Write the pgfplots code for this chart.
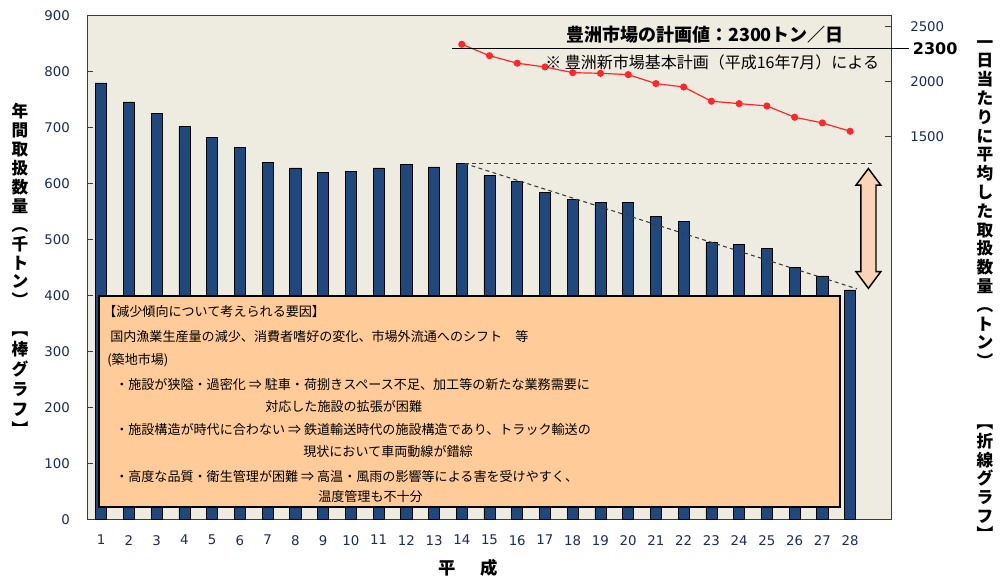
\documentclass[border=0pt]{standalone}
\usepackage{fontspec}
\setmainfont{DejaVu Sans}
\newfontfamily\jp{Noto Sans CJK JP}
\usepackage{pgfplots}
\pgfplotsset{compat=1.18}
\definecolor{bgcol}{RGB}{238,235,224}
\definecolor{barcol}{RGB}{31,73,125}
\definecolor{framecol}{RGB}{60,60,60}
\definecolor{linecol}{RGB}{255,40,40}
\definecolor{boxcol}{RGB}{255,204,153}
\definecolor{arrowcol}{RGB}{250,212,184}
\definecolor{tickcol}{RGB}{28,45,85}
\begin{document}
\begin{tikzpicture}
\path[use as bounding box, fill=white] (0,0) rectangle (750pt,438.75pt);
\begin{axis}[
  at={(65.475pt,49.125pt)}, anchor=south west,
  scale only axis, width=603.3pt, height=377.85pt,
  xmin=0.5, xmax=29.5, ymin=0, ymax=900,
  ytick={0,100,...,900},
  xtick={1,...,28},
  xtick pos=bottom, ytick pos=left,
  x tick style={draw=none},
  y tick style={draw=framecol, line width=0.8pt},
  major tick length=4.5pt,
  tick align=inside,
  axis line style={draw=framecol, line width=1pt},
  axis background/.style={fill=bgcol},
  tick label style={font=\fontsize{10}{12}\selectfont, text=tickcol},
  /pgf/number format/assume math mode=true,
  /pgf/number format/1000 sep={},
  yticklabel style={xshift=-9.5pt},
  xticklabel style={yshift=-8.3pt},
  clip=false,
]
\addplot[ybar, bar width=0.4, bar shift=0pt, fill=barcol, draw=black, line width=0.5pt] coordinates {
(1,780) (2,746) (3,725) (4,702) (5,682) (6,664) (7,638) (8,628) (9,620) (10,622)
(11,628) (12,634) (13,630) (14,636) (15,614) (16,604) (17,585) (18,572) (19,566) (20,566)
(21,542) (22,532) (23,496) (24,491) (25,484) (26,451) (27,435) (28,410)};
\draw[framecol, dash pattern=on 3pt off 2.5pt, line width=0.8pt] (axis cs:14.1,636) -- (axis cs:28.79,636);
\draw[framecol, dash pattern=on 3pt off 2.5pt, line width=0.8pt] (axis cs:14.1,636) -- (axis cs:28.25,412);
\draw[black, line width=1.1pt, fill=arrowcol, line join=miter]
  (axis cs:28.66,627)
  -- ([xshift=9.3pt,yshift=-12.5pt]axis cs:28.66,627)
  -- ([xshift=5.7pt,yshift=-12.5pt]axis cs:28.66,627)
  -- ([xshift=5.7pt,yshift=12.5pt]axis cs:28.66,413)
  -- ([xshift=9.3pt,yshift=12.5pt]axis cs:28.66,413)
  -- (axis cs:28.66,413)
  -- ([xshift=-9.3pt,yshift=12.5pt]axis cs:28.66,413)
  -- ([xshift=-5.7pt,yshift=12.5pt]axis cs:28.66,413)
  -- ([xshift=-5.7pt,yshift=-12.5pt]axis cs:28.66,627)
  -- ([xshift=-9.3pt,yshift=-12.5pt]axis cs:28.66,627)
  -- cycle;
\end{axis}
\begin{axis}[
  at={(65.475pt,49.125pt)}, anchor=south west,
  scale only axis, width=603.3pt, height=377.85pt,
  xmin=0.5, xmax=29.5, ymin=-2000, ymax=2600,
  axis y line*=right, axis x line=none,
  ytick={1500,2000,2500},
  tick align=inside,
  major tick length=5pt,
  y tick style={draw=framecol, line width=0.8pt},
  axis line style={draw=framecol, line width=1pt},
  tick label style={font=\fontsize{10}{12}\selectfont, text=tickcol},
  /pgf/number format/assume math mode=true,
  /pgf/number format/1000 sep={},
  yticklabel style={xshift=10.4pt},
  clip=false,
]
\addplot[color=linecol, line width=0.9pt, mark=*, mark size=2.2pt, mark options={fill=linecol, draw=linecol}] coordinates {
(14,2339) (15,2235) (16,2166) (17,2132) (18,2080) (19,2074) (20,2062) (21,1980)
(22,1949) (23,1819) (24,1797) (25,1776) (26,1673) (27,1621) (28,1545)};
\draw[black, line width=0.8pt] (axis cs:13.66,2300) -- ([xshift=13pt]axis cs:29.5,2300)
  node[right, inner sep=2.5pt, font=\bfseries\fontsize{12}{14}\selectfont]{2300};
\end{axis}
\begin{scope}[x=0.75pt,y=-0.75pt,yshift=438.75pt]
\node[anchor=center, inner sep=0, font=\jp\bfseries\fontsize{13.5}{15}\selectfont] at (705,35) {豊洲市場の計画値：2300トン／日};
\node[anchor=west, inner sep=0, font=\jp\fontsize{12}{14}\selectfont] at (545,62) {※ 豊洲新市場基本計画（平成16年7月）による};
\draw[black, line width=1.4pt, fill=boxcol] (99,296) rectangle (840,507);
\begin{scope}[every node/.style={anchor=west, inner sep=0, font=\jp\fontsize{9.8}{11}\selectfont}]
\node at (103,311.7) {【減少傾向について考えられる要因】};
\node at (110,336.7) {国内漁業生産量の減少、消費者嗜好の変化、市場外流通へのシフト　等};
\node at (107,360) {(築地市場)};
\node at (115,385) {・施設が狭隘・過密化 ⇒ 駐車・荷捌きスペース不足、加工等の新たな業務需要に};
\node at (265,406.7) {対応した施設の拡張が困難};
\node at (115,430) {・施設構造が時代に合わない ⇒ 鉄道輸送時代の施設構造であり、トラック輸送の};
\node at (303,451.7) {現状において車両動線が錯綜};
\node at (115,476.7) {・高度な品質・衛生管理が困難 ⇒ 高温・風雨の影響等による害を受けやすく、};
\node at (318,496.7) {温度管理も不十分};
\end{scope}
\node[anchor=north, inner sep=0, align=center, font=\jp\bfseries\fontsize{12.5}{14.2}\selectfont] at (20,103)
  {年\\間\\取\\扱\\数\\量\\︵\\千\\ト\\ン\\︶};
\node[anchor=north, inner sep=0, align=center, font=\jp\bfseries\fontsize{12.5}{15}\selectfont] at (20,332)
  {︻\\棒\\グ\\ラ\\フ\\︼};
\node[anchor=north, inner sep=0, align=center, font=\jp\bfseries\fontsize{12.5}{14.1}\selectfont] at (985,40)
  {一\\日\\当\\た\\り\\に\\平\\均\\し\\た\\取\\扱\\数\\量\\︵\\ト\\ン\\︶};
\node[anchor=north, inner sep=0, align=center, font=\jp\bfseries\fontsize{12.5}{14}\selectfont] at (985,425)
  {︻\\折\\線\\グ\\ラ\\フ\\︼};
\node[inner sep=0, font=\jp\bfseries\fontsize{13}{15}\selectfont] at (447,568) {平};
\node[inner sep=0, font=\jp\bfseries\fontsize{13}{15}\selectfont] at (489,568) {成};
\end{scope}
\end{tikzpicture}
\end{document}
